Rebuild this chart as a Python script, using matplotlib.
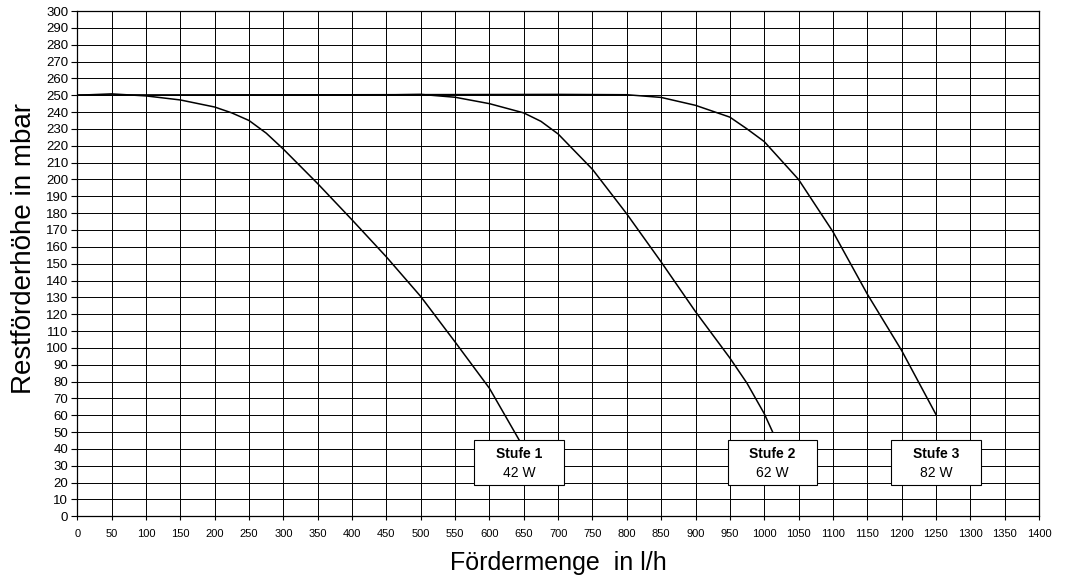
import matplotlib.pyplot as plt
from matplotlib.patches import Rectangle
import numpy as np

plt.rcParams['font.family'] = ['Liberation Sans', 'DejaVu Sans']

# pump curves (flow in l/h, head in mbar)
stufe1_x = [0, 50, 100, 150, 200, 225, 250, 275, 300, 350, 400, 450, 500, 550, 600, 643]
stufe1_y = [250, 250.8, 249.6, 247.2, 243, 239.5, 235, 227.5, 218, 197.5, 176, 154, 130.5, 103.5, 76, 45.5]

stufe2_x = [0, 450, 500, 550, 600, 650, 675, 700, 750, 800, 850, 900, 950, 975, 1000, 1012]
stufe2_y = [250, 250.2, 250.5, 248.8, 245, 239.5, 234.5, 227, 206, 179.5, 151, 121.5, 94, 79, 61, 50.3]

stufe3_x = [0, 700, 800, 850, 900, 950, 975, 1000, 1050, 1100, 1150, 1200, 1250]
stufe3_y = [250, 250.5, 250.3, 248.7, 244, 237, 230, 222.5, 200, 169, 132, 98.5, 60.5]

stage_names = ['Stufe 1', 'Stufe 2', 'Stufe 3']
stage_power = ['42 W', '62 W', '82 W']

x_ticks = np.arange(0, 1401, 50)
y_ticks = np.arange(0, 301, 10)

fig = plt.figure(figsize=(10.69, 5.83), dpi=100)
ax = fig.add_axes([0.0723, 0.1144, 0.8996, 0.8667])

curves = [(stufe1_x, stufe1_y), (stufe2_x, stufe2_y), (stufe3_x, stufe3_y)]
for cx, cy in curves:
    ax.plot(cx, cy, color='black', lw=1.1, zorder=3)

ax.set_xlim(0, 1400)
ax.set_ylim(0, 300)
ax.set_xticks(x_ticks)
ax.set_yticks(y_ticks)
ax.tick_params(axis='x', labelsize=8, length=3, pad=6, width=0.8)
ax.tick_params(axis='y', labelsize=9.5, length=4.5, pad=2, width=0.8)
ax.grid(True, color='black', lw=0.7, zorder=1)
ax.set_axisbelow(True)
for sp in ax.spines.values():
    sp.set_linewidth(0.9)

# label boxes below the curve ends
box_w, box_top, box_bot = 130, 45.3, 18.5
for (cx, cy), name, power in zip(curves, stage_names, stage_power):
    xc = cx[-1]
    ax.add_patch(Rectangle((xc - box_w / 2, box_bot), box_w, box_top - box_bot,
                           facecolor='white', edgecolor='black', lw=0.8, zorder=4))
    ax.text(xc, 37, name, ha='center', va='center', fontsize=10,
            fontweight='bold', zorder=5)
    ax.text(xc, 26, power, ha='center', va='center', fontsize=10, zorder=5)

ax.set_xlabel('Fördermenge  in l/h', fontsize=18, labelpad=9)
ax.set_ylabel('Restförderhöhe in mbar', fontsize=20, va='center')
ax.yaxis.set_label_coords(-0.055, 0.53)

fig.savefig('out.png', dpi=100)
